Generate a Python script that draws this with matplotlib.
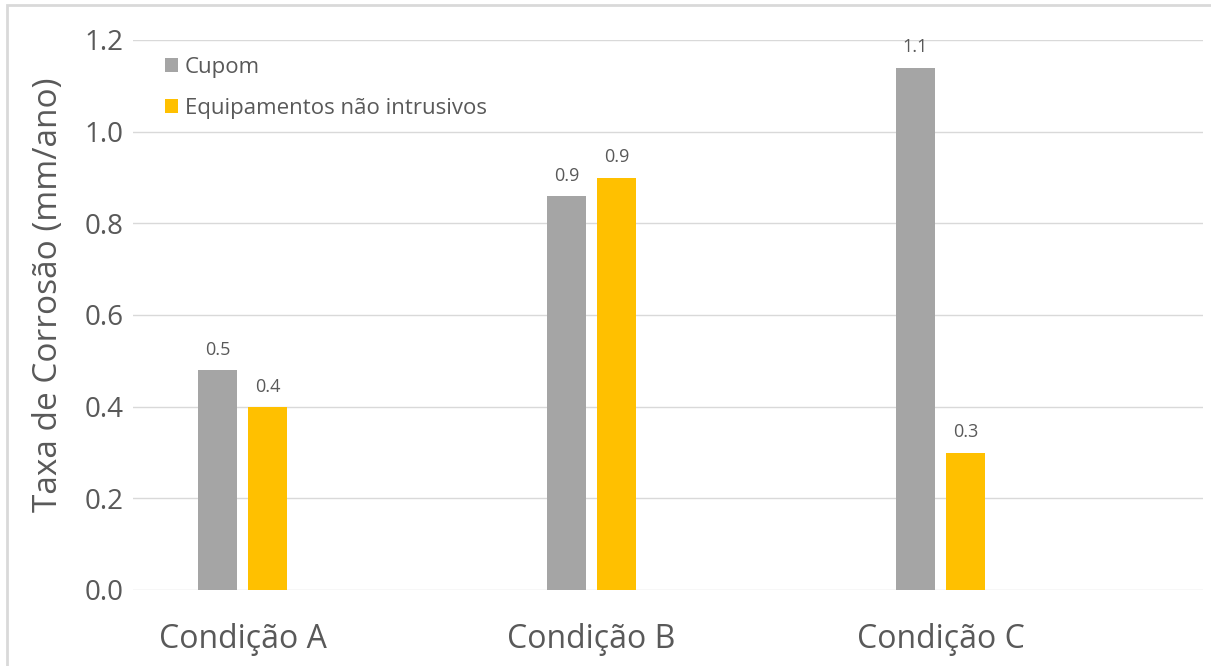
import numpy as np
import matplotlib.pyplot as plt
from matplotlib.patches import Rectangle

# Data
categories = ['Condição A', 'Condição B', 'Condição C']
cupom = [0.48, 0.86, 1.14]
equipamentos = [0.40, 0.90, 0.30]
series_names = ['Cupom', 'Equipamentos não intrusivos']

plt.rcParams['font.family'] = ['Open Sans', 'DejaVu Sans']
txt_color = '#595959'
gray = '#A5A5A5'
yellow = '#FFC000'

fig = plt.figure(figsize=(12.11, 6.66), dpi=100)
ax = fig.add_axes([133 / 1211, 1 - 590 / 666, 1070 / 1211, 550 / 666])

# Outer chart border
fig.patches.append(Rectangle((7 / 1211, -0.1), 1.2, 1 - 5 / 666 + 0.1,
                             transform=fig.transFigure, fill=False,
                             edgecolor='#D9D9D9', linewidth=2.0))

x = np.arange(len(categories))
w = 39 / 349
off = 25 / 349

b1 = ax.bar(x - off, cupom, w, color=gray, label=series_names[0], zorder=3)
b2 = ax.bar(x + off, equipamentos, w, color=yellow, label=series_names[1], zorder=3)

# Data labels
for bars in (b1, b2):
    for rect in bars:
        h = rect.get_height()
        ax.annotate(f'{h:.1f}', (rect.get_x() + rect.get_width() / 2, h),
                    xytext=(0, 8), textcoords='offset points',
                    ha='center', va='bottom', fontsize=13, color=txt_color)

ax.set_ylim(0, 1.2)
ax.set_yticks(np.arange(0, 1.21, 0.2))
ax.set_yticklabels([f'{v:.1f}' for v in np.arange(0, 1.21, 0.2)])
ax.set_xlim((133 - 242.5) / 349, (1203 - 242.5) / 349)
ax.set_xticks(x)
ax.set_xticklabels(categories)

ax.grid(axis='y', color='#D9D9D9', linewidth=1.0, zorder=0)
for s in ax.spines.values():
    s.set_visible(False)
ax.tick_params(axis='both', length=0, colors=txt_color)
ax.tick_params(axis='y', labelsize=20, pad=7)
ax.tick_params(axis='x', labelsize=23, pad=24)

ax.set_ylabel('Taxa de Corrosão (mm/ano)', fontsize=24, color=txt_color)
ax.yaxis.set_label_coords(-68 / 1070, 0.536)

leg = ax.legend(loc='upper left', bbox_to_anchor=(0.011, 1.005), frameon=False,
                fontsize=16, handlelength=0.6, handleheight=0.6, handletextpad=0.3,
                labelspacing=0.9, labelcolor=txt_color)

fig.savefig('out.png', dpi=100)
